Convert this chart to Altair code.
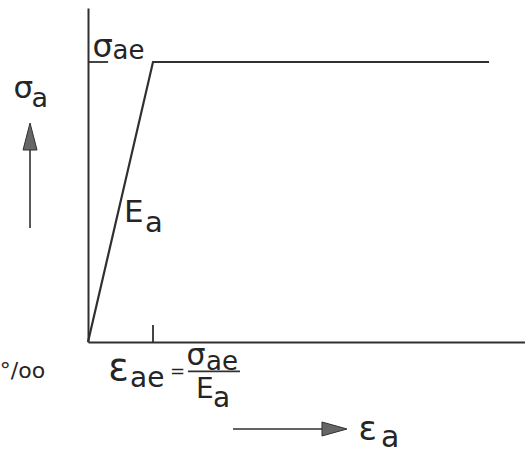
import altair as alt
import pandas as pd

# Elastic - perfectly plastic stress-strain law (normalised: eps_ae = 1, sigma_ae = 1)
strain = [0.0, 1.0, 6.17]
stress = [0.0, 1.0, 1.0]

X_DOMAIN = [0.0, 6.723]
Y_DOMAIN = [0.0, 1.1929]

INK = "#303030"
TXT = "#252525"
FONT = "DejaVu Sans"

# label pieces: text, x (strain units), y (stress units), font size
lbl_text = ["σ", "a", "σ", "ae", "E", "a", "ε", "ae", "σ", "ae", "E", "a", "ε", "a"]
lbl_x = [-1.146, -0.869, 0.069, 0.377, 0.554, 0.877, 0.31, 0.646, 1.515, 1.815, 1.662, 1.923, 4.16, 4.508]
lbl_y = [0.8714, 0.839, 1.0179, 1.0107, 0.4286, 0.393, -0.1357, -0.1607, -0.0821, -0.10, -0.20, -0.232, -0.35, -0.375]
lbl_size = [31, 27, 32, 26, 31, 29, 38, 28, 30, 26, 28, 28, 34, 30]

xs = alt.Scale(domain=X_DOMAIN, nice=False, zero=False)
ys = alt.Scale(domain=Y_DOMAIN, nice=False, zero=False)
ax = alt.Axis(domain=True, ticks=False, labels=False, grid=False, title=None,
              domainColor=INK, domainWidth=2)

curve = pd.DataFrame({"strain": strain, "stress": stress})

base_line = alt.Chart(curve).mark_line(color=INK, strokeWidth=2.2).encode(
    x=alt.X("strain:Q", scale=xs, axis=ax),
    y=alt.Y("stress:Q", scale=ys, axis=ax),
)

# small marks at eps_ae on the strain axis and at sigma_ae on the stress axis
ticks = pd.DataFrame({"x": [1.0, 0.0], "x2": [1.0, 0.31], "y": [0.0, 1.0], "y2": [0.061, 1.0]})
tick_rules = alt.Chart(ticks).mark_rule(color=INK, strokeWidth=1.8).encode(
    x=alt.X("x:Q", scale=xs), x2="x2:Q", y=alt.Y("y:Q", scale=ys), y2="y2:Q"
)

# fraction bar and the shafts of the two direction arrows
bars = pd.DataFrame({
    "x": [1.538, 2.231, -0.892],
    "x2": [2.338, 3.60, -0.892],
    "y": [-0.105, -0.3107, 0.407],
    "y2": [-0.105, -0.3107, 0.69],
})
bar_rules = alt.Chart(bars).mark_rule(color=INK, strokeWidth=1.6).encode(
    x=alt.X("x:Q", scale=xs), x2="x2:Q", y=alt.Y("y:Q", scale=ys), y2="y2:Q"
)

head_right = alt.Chart(pd.DataFrame({"x": [3.792], "y": [-0.3107]})).mark_point(
    shape="M-1,-0.56L1,0L-1,0.56Z", size=625, filled=True, fill="#666666",
    stroke=INK, strokeWidth=1, opacity=1
).encode(x=alt.X("x:Q", scale=xs), y=alt.Y("y:Q", scale=ys))

head_up = alt.Chart(pd.DataFrame({"x": [-0.892], "y": [0.7339]})).mark_point(
    shape="M0,-1L0.5185,1L-0.5185,1Z", size=729, filled=True, fill="#666666",
    stroke=INK, strokeWidth=1, opacity=1
).encode(x=alt.X("x:Q", scale=xs), y=alt.Y("y:Q", scale=ys))

labels = pd.DataFrame({"t": lbl_text, "x": lbl_x, "y": lbl_y, "s": lbl_size})
text_layer = alt.Chart(labels).mark_text(
    align="left", baseline="alphabetic", font=FONT, color=TXT
).encode(
    x=alt.X("x:Q", scale=xs), y=alt.Y("y:Q", scale=ys), text="t:N",
    size=alt.Size("s:Q", scale=None, legend=None),
)

equals = alt.Chart(pd.DataFrame({"t": ["="], "x": [1.377], "y": [-0.125]})).mark_text(
    align="center", baseline="alphabetic", font=FONT, fontSize=18, color=TXT
).encode(x=alt.X("x:Q", scale=xs), y=alt.Y("y:Q", scale=ys), text="t:N")

permille = alt.Chart(pd.DataFrame({"t": ["°/oo"], "x": [-0.66], "y": [-0.1286]})).mark_text(
    align="right", baseline="alphabetic", font=FONT, fontSize=22, color=TXT
).encode(x=alt.X("x:Q", scale=xs), y=alt.Y("y:Q", scale=ys), text="t:N")

chart = alt.layer(
    base_line, tick_rules, bar_rules, head_right, head_up, text_layer, equals, permille
).properties(
    width=437, height=334,
    padding={"left": 88, "top": 8, "right": 0, "bottom": 112},
    autosize=alt.AutoSizeParams(type="none"),
    background="white",
).configure_view(stroke=None)

chart.save("out.html", embed_options={"renderer": "svg", "actions": False})
